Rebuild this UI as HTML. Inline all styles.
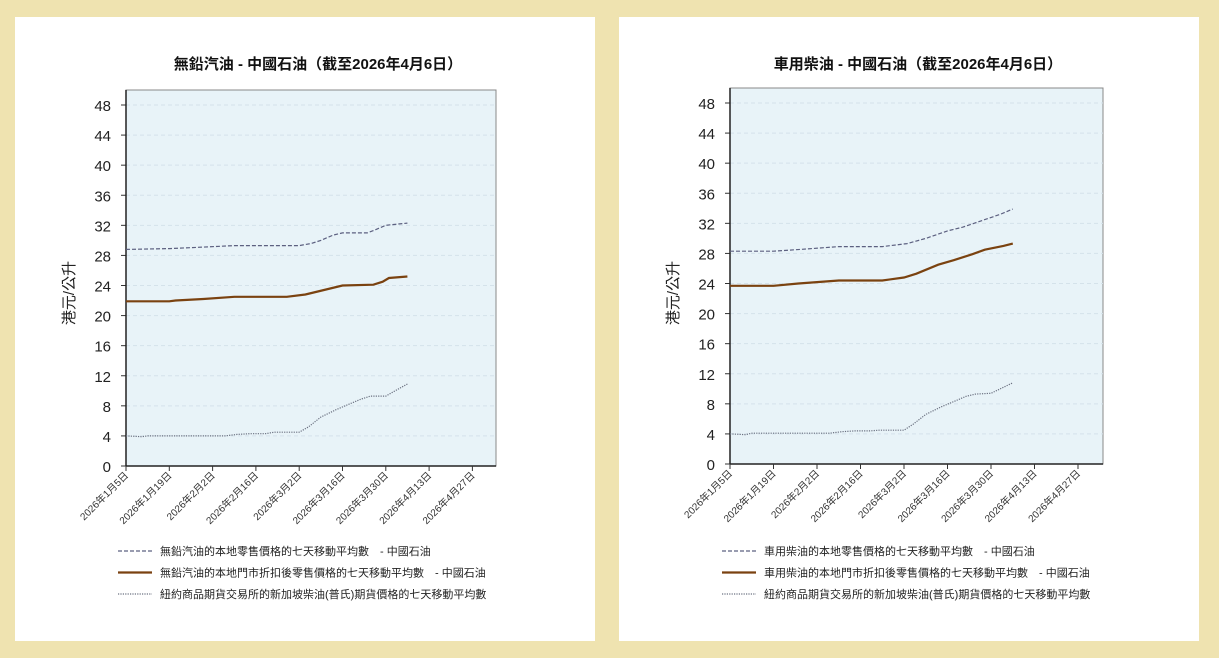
<!DOCTYPE html>
<html><head><meta charset="utf-8"><style>
html,body{margin:0;padding:0;background:#efe3b0;}
body{width:1219px;height:658px;position:relative;overflow:hidden;font-family:"Liberation Sans","Noto Sans CJK TC",sans-serif;}
.p{position:absolute;top:17px;width:580px;height:624px;background:#fff;}
svg{position:absolute;left:0;top:0;}
</style></head><body>
<div class="p" style="left:15px"></div>
<div class="p" style="left:619px"></div>
<svg id="s" width="1219" height="658" xmlns="http://www.w3.org/2000/svg" font-family="Liberation Sans, Noto Sans CJK TC, sans-serif"></svg>
<script>
var S=document.getElementById('s'),h='';
function chart(o){
 var x0=o.x0,x1=o.x1,yb=o.yb,yt=o.yt,top=o.top,k=(yb-yt)/48,dx=o.dx;
 function X(d){return x0+d*dx;} function Y(v){return yb-v*k;}
 h+='<rect x="'+x0+'" y="'+top+'" width="'+(x1-x0)+'" height="'+(yb-top)+'" fill="#e8f3f8" stroke="#888" stroke-width="1"/>';
 for(var v=0;v<=48;v+=4){var y=Y(v);
  if(v>0)h+='<line x1="'+x0+'" x2="'+x1+'" y1="'+y+'" y2="'+y+'" stroke="#d4e2ea" stroke-dasharray="4,3"/>';
  h+='<line x1="'+(x0-5)+'" x2="'+x0+'" y1="'+y+'" y2="'+y+'" stroke="#333"/>';
  h+='<text x="'+(x0-15)+'" y="'+(y+6)+'" font-size="15" text-anchor="end" fill="#222">'+v+'</text>';}
 h+='<line x1="'+x0+'" x2="'+x0+'" y1="'+top+'" y2="'+yb+'" stroke="#222" stroke-width="1.5"/>';
 h+='<line x1="'+x0+'" x2="'+x1+'" y1="'+yb+'" y2="'+yb+'" stroke="#222" stroke-width="1.5"/>';
 var labs=['1月5日','1月19日','2月2日','2月16日','3月2日','3月16日','3月30日','4月13日','4月27日'];
 for(var i=0;i<9;i++){var x=X(i*14);
  h+='<line x1="'+x+'" x2="'+x+'" y1="'+yb+'" y2="'+(yb+5)+'" stroke="#333"/>';
  h+='<text transform="translate('+(x+3)+','+(yb+10)+') rotate(-45)" font-size="10" text-anchor="end" fill="#333">2026年'+labs[i]+'</text>';}
 function line(pts,st){var s='';pts.forEach(function(p){s+=X(p[0]).toFixed(1)+','+Y(p[1]).toFixed(1)+' ';});h+='<polyline points="'+s+'" fill="none" '+st+'/>';}
 line(o.a,'stroke="#5c6080" stroke-width="1.2" stroke-dasharray="4,2"');
 line(o.b,'stroke="#7a4210" stroke-width="2.2"');
 line(o.c,'stroke="#6a7080" stroke-width="1.2" stroke-dasharray="1.2,1.2"');
 h+='<text x="'+o.tx+'" y="69" font-size="15" font-weight="bold" text-anchor="middle" fill="#111">'+o.title+'</text>';
 h+='<text transform="translate('+(o.x0-52)+',293) rotate(-90)" font-size="15" text-anchor="middle" fill="#222">港元/公升</text>';
 var lx=o.x0-8,L=[['stroke="#5c6080" stroke-width="1.2" stroke-dasharray="4,2"',o.l1],['stroke="#7a4210" stroke-width="2.2"',o.l2],['stroke="#6a7080" stroke-width="1.2" stroke-dasharray="1.2,1.2"','紐約商品期貨交易所的新加坡柴油(普氏)期貨價格的七天移動平均數']];
 for(var j=0;j<3;j++){var y=551+j*21.5;
  h+='<line x1="'+lx+'" x2="'+(lx+34)+'" y1="'+y+'" y2="'+y+'" '+L[j][0]+'/>';
  h+='<text x="'+(lx+42)+'" y="'+(y+4)+'" font-size="11" fill="#222">'+L[j][1]+'</text>';}
}
var dotted=[[0,4],[5,3.9],[7,4.0],[32,4.0],[36,4.2],[40,4.3],[45,4.3],[48,4.5],[56,4.5],[59,5.2],[63,6.5],[68,7.5],[72,8.2],[76,8.9],[79,9.3],[84,9.3],[87,10.0],[91,10.9]];
chart({x0:126,x1:496,yb:466,yt:105,top:90,dx:43.3/14,tx:318,title:'無鉛汽油 - 中國石油（截至2026年4月6日）',
 a:[[0,28.8],[14,28.9],[25,29.1],[35,29.3],[56,29.3],[60,29.6],[63,30.0],[67,30.7],[70,31.0],[78,31.0],[80,31.3],[84,32.0],[91,32.3]],
 b:[[0,21.9],[14,21.9],[16,22.0],[25,22.2],[35,22.5],[52,22.5],[58,22.8],[62,23.2],[70,24.0],[80,24.1],[83,24.5],[85,25.0],[91,25.2]],
 c:dotted,l1:'無鉛汽油的本地零售價格的七天移動平均數　- 中國石油',l2:'無鉛汽油的本地門市折扣後零售價格的七天移動平均數　- 中國石油'});
chart({x0:730,x1:1103,yb:464,yt:103,top:88,dx:43.5/14,tx:918,title:'車用柴油 - 中國石油（截至2026年4月6日）',
 a:[[0,28.3],[14,28.3],[25,28.6],[35,28.9],[49,28.9],[57,29.3],[63,30.0],[70,31.0],[75,31.5],[82,32.5],[87,33.2],[91,33.9]],
 b:[[0,23.7],[14,23.7],[22,24.0],[35,24.4],[49,24.4],[56,24.8],[60,25.3],[67,26.5],[72,27.1],[78,27.9],[82,28.5],[88,29.0],[91,29.3]],
 c:[[0,4],[5,3.9],[7,4.1],[32,4.1],[36,4.3],[40,4.4],[45,4.4],[48,4.5],[56,4.5],[59,5.3],[63,6.6],[68,7.6],[72,8.3],[76,9.0],[79,9.3],[84,9.4],[87,10.0],[91,10.8]],
 l1:'車用柴油的本地零售價格的七天移動平均數　- 中國石油',l2:'車用柴油的本地門市折扣後零售價格的七天移動平均數　- 中國石油'});
S.innerHTML=h;
</script>
</body></html>
